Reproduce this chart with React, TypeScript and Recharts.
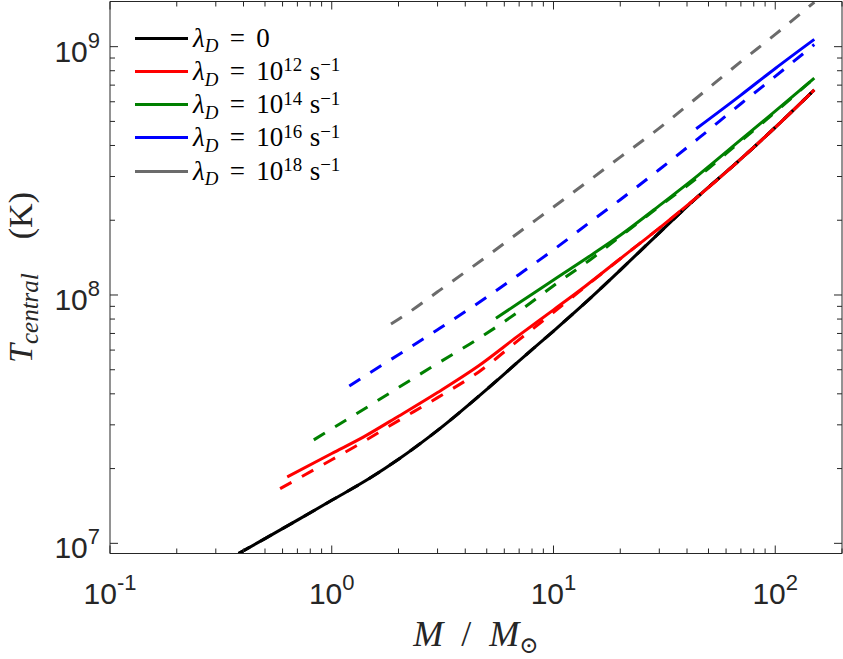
import { LineChart, Line, XAxis, YAxis, Legend, Label } from 'recharts';

const AXIS_COLOR = '#262626';
const SERIF = '"Liberation Serif", "DejaVu Serif", serif';
const SANS = '"Liberation Sans", Arial, Helvetica, sans-serif';

// log-axis ticks (majors get labels)
const xTickValues = [
  0.1, 0.2, 0.3, 0.4, 0.5, 0.6, 0.7, 0.8, 0.9,
  1, 2, 3, 4, 5, 6, 7, 8, 9,
  10, 20, 30, 40, 50, 60, 70, 80, 90,
  100, 200,
];
const xMajor = [0.1, 1, 10, 100];
const yTickValues = [
  1e7, 2e7, 3e7, 4e7, 5e7, 6e7, 7e7, 8e7, 9e7,
  1e8, 2e8, 3e8, 4e8, 5e8, 6e8, 7e8, 8e8, 9e8,
  1e9,
];
const yMajor = [1e7, 1e8, 1e9];

// lambda_D = 0
const massZero = [0.38, 0.5, 0.7, 1, 1.5, 2, 3, 5, 7, 10, 15, 20, 30, 45, 70, 100, 150];
const tempZero = [9.1e6, 1.045e7, 1.24e7, 1.49e7, 1.84e7, 2.18e7, 2.85e7, 4.17e7, 5.43e7, 7.16e7, 9.9e7, 1.26e8, 1.78e8, 2.5e8, 3.53e8, 4.73e8, 6.7e8];

// lambda_D = 1e12 s^-1
const massL12 = [0.63, 1, 1.4, 2, 3, 4.6, 7, 10, 14, 20, 30, 45, 70, 100, 150];
const tempL12 = [1.85e7, 2.3e7, 2.69e7, 3.25e7, 4.05e7, 5.19e7, 6.89e7, 8.71e7, 1.09e8, 1.4e8, 1.86e8, 2.5e8, 3.53e8, 4.73e8, 6.7e8];
const massL12Fit = [0.585, 1, 1.27, 2, 3, 4.6, 7, 10, 14, 20, 30, 45, 70, 100, 150];
const tempL12Fit = [1.66e7, 2.17e7, 2.45e7, 3.12e7, 3.86e7, 4.9e7, 6.61e7, 8.51e7, 1.084e8, 1.4e8, 1.86e8, 2.5e8, 3.53e8, 4.73e8, 6.7e8];

// lambda_D = 1e14 s^-1
const massL14 = [5.5, 7, 10, 15, 20, 30, 45, 70, 100, 150];
const tempL14 = [8.06e7, 9.3e7, 1.15e8, 1.46e8, 1.74e8, 2.29e8, 3.04e8, 4.22e8, 5.5e8, 7.47e8];
const massL14Fit = [0.83, 1, 1.5, 2, 3, 4.5, 7, 10, 15, 20, 30, 45, 70, 100, 150];
const tempL14Fit = [2.61e7, 2.89e7, 3.61e7, 4.24e7, 5.3e7, 6.6e7, 8.6e7, 1.09e8, 1.41e8, 1.72e8, 2.27e8, 2.99e8, 4.17e8, 5.45e8, 7.47e8];

// lambda_D = 1e16 s^-1
const massL16 = [44, 70, 100, 150];
const tempL16 = [4.67e8, 6.38e8, 8.17e8, 1.07e9];
const massL16Fit = [1.2, 1.5, 2, 3, 5, 7, 10, 15, 20, 30, 45, 70, 100, 150];
const tempL16Fit = [4.3e7, 4.89e7, 5.75e7, 7.25e7, 9.8e7, 1.21e8, 1.52e8, 2.0e8, 2.42e8, 3.2e8, 4.27e8, 5.89e8, 7.59e8, 1.02e9];

// lambda_D = 1e18 s^-1
const massL18Fit = [1.85, 2, 3, 5, 7, 10, 15, 20, 30, 45, 70, 100, 150];
const tempL18Fit = [7.64e7, 7.98e7, 1.03e8, 1.43e8, 1.79e8, 2.26e8, 2.96e8, 3.59e8, 4.7e8, 6.3e8, 8.7e8, 1.12e9, 1.51e9];

const legendExponents = [null, 12, 14, 16, 18];
const legendColors = ['#000000', '#ff0000', '#008000', '#0000ff', '#6b6b6b'];

const toPoints = (m: number[], t: number[]) => m.map((v, i) => ({ m: v, t: t[i] }));

const solidSeries = [
  { id: 'zero', color: legendColors[0], data: toPoints(massZero, tempZero) },
  { id: 'l12', color: legendColors[1], data: toPoints(massL12, tempL12) },
  { id: 'l14', color: legendColors[2], data: toPoints(massL14, tempL14) },
  { id: 'l16', color: legendColors[3], data: toPoints(massL16, tempL16) },
];
const dashedSeries = [
  { id: 'zeroFit', color: legendColors[0], data: toPoints(massZero, tempZero) },
  { id: 'l12Fit', color: legendColors[1], data: toPoints(massL12Fit, tempL12Fit) },
  { id: 'l14Fit', color: legendColors[2], data: toPoints(massL14Fit, tempL14Fit) },
  { id: 'l16Fit', color: legendColors[3], data: toPoints(massL16Fit, tempL16Fit) },
  { id: 'l18Fit', color: legendColors[4], data: toPoints(massL18Fit, tempL18Fit) },
];

const expOf = (v: number) => Math.round(Math.log10(v));

const BottomTick = ({ x, y, payload }: any) => {
  const major = xMajor.includes(payload.value);
  return (
    <g>
      <line x1={x} x2={x} y1={y} y2={y - (major ? 8 : 5)} stroke={AXIS_COLOR} />
      {major && (
        <text x={x} y={y + 50} textAnchor="middle" fontFamily={SANS} fontSize={30} fill={AXIS_COLOR}>
          <tspan>10</tspan>
          <tspan dy={-14} fontSize={22}>{expOf(payload.value)}</tspan>
        </text>
      )}
    </g>
  );
};

const TopTick = ({ x, y, payload }: any) => {
  const major = xMajor.includes(payload.value);
  return <line x1={x} x2={x} y1={y} y2={y + (major ? 8 : 5)} stroke={AXIS_COLOR} />;
};

const LeftTick = ({ x, y, payload }: any) => {
  const major = yMajor.includes(payload.value);
  return (
    <g>
      <line x1={x} x2={x + (major ? 8 : 5)} y1={y} y2={y} stroke={AXIS_COLOR} />
      {major && (
        <text x={x - 10} y={y + 15} textAnchor="end" fontFamily={SANS} fontSize={30} fill={AXIS_COLOR}>
          <tspan>10</tspan>
          <tspan dy={-14} fontSize={22}>{expOf(payload.value)}</tspan>
        </text>
      )}
    </g>
  );
};

const RightTick = ({ x, y, payload }: any) => {
  const major = yMajor.includes(payload.value);
  return <line x1={x} x2={x - (major ? 8 : 5)} y1={y} y2={y} stroke={AXIS_COLOR} />;
};

const XTitle = ({ viewBox }: any) => {
  const cx = viewBox ? viewBox.x + viewBox.width / 2 : 476;
  const by = viewBox ? viewBox.y + 92.5 : 646;
  return (
    <text x={cx} y={by} textAnchor="middle" fontFamily={SERIF} fontSize={36} fill={AXIS_COLOR}>
      <tspan fontStyle="italic">M</tspan>
      <tspan>{'\u2002/\u2002'}</tspan>
      <tspan fontStyle="italic">M</tspan>
      <tspan dy={7} fontSize={23}>⊙</tspan>
    </text>
  );
};

const YTitle = ({ viewBox }: any) => {
  const cy = viewBox ? viewBox.y + viewBox.height / 2 : 277.5;
  const bx = 32;
  return (
    <text x={bx} y={cy} transform={`rotate(-90 ${bx} ${cy})`} textAnchor="middle" fontFamily={SERIF} fontSize={34} fill={AXIS_COLOR}>
      <tspan fontStyle="italic">T</tspan>
      <tspan fontStyle="italic" fontSize={25} dy={6}>central</tspan>
      <tspan dy={-6}>{'\u2003(K)'}</tspan>
    </text>
  );
};

const subStyle = { fontSize: '0.7em', position: 'relative' as const, top: '0.3em', fontStyle: 'italic' };
const supStyle = { fontSize: '0.7em', position: 'relative' as const, top: '-0.45em' };

const LegendBox = () => (
  <div style={{ fontFamily: SERIF, fontSize: 27, color: '#000' }}>
    {legendExponents.map((exp, i) => (
      <div key={i} style={{ display: 'flex', alignItems: 'center', height: 33.2 }}>
        <div style={{ width: 53, height: 3, background: legendColors[i], marginRight: 5, flexShrink: 0 }} />
        <span style={{ whiteSpace: 'nowrap', lineHeight: 1 }}>
          <span style={{ fontStyle: 'italic' }}>λ</span>
          <span style={subStyle}>D</span>
          <span style={{ margin: '0 0.42em' }}>=</span>
          {exp === null ? (
            '0'
          ) : (
            <>
              10<span style={supStyle}>{exp}</span>
              <span style={{ marginLeft: '0.28em' }}>s</span>
              <span style={supStyle}>−1</span>
            </>
          )}
        </span>
      </div>
    ))}
  </div>
);

export default function App() {
  return (
    <div style={{ position: 'absolute', left: 0, top: 0, width: 843, height: 659, background: '#fff' }}>
      <LineChart width={843} height={659} margin={{ top: 0.5, right: 0, bottom: 45.5, left: 50 }}>
        <XAxis
          xAxisId="b"
          dataKey="m"
          type="number"
          scale="log"
          domain={[0.1, 200]}
          allowDataOverflow
          ticks={xTickValues}
          interval={0}
          tickSize={0}
          tickMargin={0}
          tickLine={false}
          height={60}
          axisLine={{ stroke: AXIS_COLOR }}
          tick={<BottomTick />}
        >
          <Label content={<XTitle />} />
        </XAxis>
        <XAxis
          xAxisId="t"
          orientation="top"
          dataKey="m"
          type="number"
          scale="log"
          domain={[0.1, 200]}
          allowDataOverflow
          ticks={xTickValues}
          interval={0}
          tickSize={0}
          tickMargin={0}
          tickLine={false}
          height={1}
          axisLine={{ stroke: AXIS_COLOR }}
          tick={<TopTick />}
        />
        <YAxis
          yAxisId="l"
          type="number"
          scale="log"
          domain={[9.1e6, 1.52e9]}
          allowDataOverflow
          ticks={yTickValues}
          interval={0}
          tickSize={0}
          tickMargin={0}
          tickLine={false}
          width={60}
          axisLine={{ stroke: AXIS_COLOR }}
          tick={<LeftTick />}
        >
          <Label content={<YTitle />} />
        </YAxis>
        <YAxis
          yAxisId="r"
          orientation="right"
          type="number"
          scale="log"
          domain={[9.1e6, 1.52e9]}
          allowDataOverflow
          ticks={yTickValues}
          interval={0}
          tickSize={0}
          tickMargin={0}
          tickLine={false}
          width={1}
          axisLine={{ stroke: AXIS_COLOR }}
          tick={<RightTick />}
        />
        {solidSeries.map((s) => (
          <Line
            key={s.id}
            xAxisId="b"
            yAxisId="l"
            data={s.data}
            dataKey="t"
            name={s.id}
            type="monotone"
            stroke={s.color}
            strokeWidth={3}
            dot={false}
            activeDot={false}
            isAnimationActive={false}
          />
        ))}
        {dashedSeries.map((s) => (
          <Line
            key={s.id}
            xAxisId="b"
            yAxisId="l"
            data={s.data}
            dataKey="t"
            name={s.id}
            type="monotone"
            stroke={s.color}
            strokeWidth={3}
            strokeDasharray="13 12"
            dot={false}
            activeDot={false}
            isAnimationActive={false}
          />
        ))}
        <Legend
          layout="vertical"
          align="center"
          verticalAlign="middle"
          wrapperStyle={{ left: 135, top: 21.7, width: 340 }}
          content={<LegendBox />}
        />
      </LineChart>
    </div>
  );
}
